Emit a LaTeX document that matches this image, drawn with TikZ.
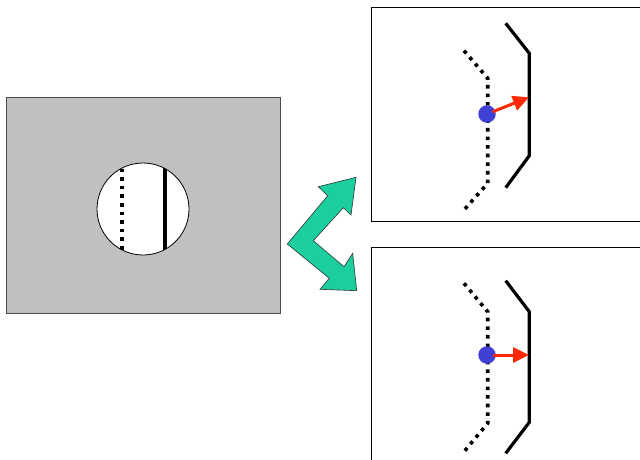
\documentclass[tikz,border=0pt]{standalone}
\usetikzlibrary{arrows.meta}
\definecolor{panelgray}{RGB}{192,192,192}
\definecolor{arrowgreen}{RGB}{26,206,158}
\definecolor{dotblue}{RGB}{64,64,212}
\definecolor{arrowred}{RGB}{255,40,0}
\tikzset{
  solidwall/.style={line width=3.2pt, line join=miter},
  dotwall/.style={line width=3.6pt, dash pattern=on 3.6pt off 5pt},
  panel/.style={draw=black, line width=0.8pt, fill=white},
  blueball/.style={circle, fill=dotblue, inner sep=0pt, minimum size=17.5pt},
  redarrow/.style={draw=arrowred, line width=3pt, -{Triangle[length=16pt,width=15pt]}, shorten <=6pt}
}
\begin{document}
\begin{tikzpicture}[x=1pt,y=-1pt]
\useasboundingbox (0,0) rectangle (640,460);
\clip (0,0) rectangle (640,460);
% left gray block with circular window
\draw[fill=panelgray, draw=black!70, line width=0.6pt] (6,97) rectangle (280,313);
\begin{scope}
  \clip (143,209) circle (46);
  \fill[white] (143,209) circle (46);
  \draw[dotwall] (122,160) -- (122,260);
  \draw[solidwall] (165,160) -- (165,260);
\end{scope}
\draw[black, line width=0.8pt] (143,209) circle (46);
% green double arrow
\draw[fill=arrowgreen, draw=black!80, line width=0.6pt, line join=miter]
  (287.3,244) -- (327.7,195.7) -- (318.3,186.7) -- (356,177.3) -- (351,215)
  -- (343.3,207.7) -- (313.3,240.7) -- (344,266.7) -- (352.7,253.3)
  -- (356.7,290.7) -- (320,289.3) -- (329.3,278.3) -- cycle;
% top panel
\draw[panel] (371,7) rectangle (660,221);
\draw[solidwall] (505.7,23.3) -- (529.3,53.3) -- (529.3,155.7) -- (505.7,187.7);
\draw[dotwall] (464,50.7) -- (487.7,78.3) -- (487.7,183.3) -- (464,210);
\node[blueball] (b1) at (487,114) {};
\coordinate (t1) at (529,97.3);
\draw[redarrow] (b1.center) -- (t1);
% bottom panel
\draw[panel] (371,247) rectangle (660,480);
\draw[solidwall] (505.7,280.7) -- (529.3,311.7) -- (529.3,422.3) -- (505.7,453.3);
\draw[dotwall] (464,283.3) -- (487.7,311.7) -- (487.7,423.3) -- (464,451.7);
\node[blueball] (b2) at (487,355) {};
\coordinate (t2) at (529,355);
\draw[redarrow] (b2.center) -- (t2);
\end{tikzpicture}
\end{document}
